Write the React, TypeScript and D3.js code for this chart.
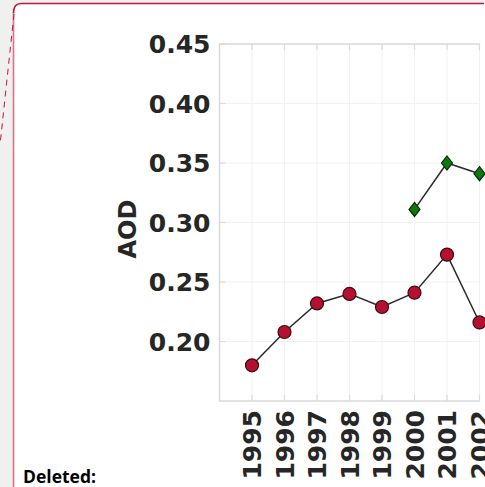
import React from "react";
import * as d3 from "d3";

const years = [1995, 1996, 1997, 1998, 1999, 2000, 2001, 2002];
const redSeries = [0.18, 0.208, 0.232, 0.24, 0.229, 0.241, 0.273, 0.216];
const greenYears = [2000, 2001, 2002];
const greenSeries = [0.311, 0.35, 0.341];
const yTicks = [0.2, 0.25, 0.3, 0.35, 0.4, 0.45];
const yLabel = "AOD";
const noteText = "Deleted:";

const W = 485;
const H = 487;

export default function App() {
  const x = d3.scaleLinear().domain([1994, 1995]).range([219.5, 252]);
  const y = d3.scaleLinear().domain([0.15, 0.45]).range([401, 44]);
  const left = x(1994);
  const right = 480;
  const top = y(0.45);
  const bottom = y(0.15);

  const redPts = years.map((yr, i) => [x(yr), y(redSeries[i])] as [number, number]);
  const greenPts = greenYears.map((yr, i) => [x(yr), y(greenSeries[i])] as [number, number]);
  const lineGen = d3.line();

  const fontMain = "'DejaVu Sans', sans-serif";
  const txt = "#262626";

  return (
    <svg
      width={W}
      height={H}
      style={{ position: "absolute", left: 0, top: 0, display: "block" }}
    >
      <rect x={0} y={0} width={W} height={H} fill="#f0f0f0" />
      {/* comment box */}
      <rect x={13.5} y={3.5} width={W} height={H} rx={7} fill="#ffffff" stroke="none" />
      <path d={`M13.5,${H + 5} L13.5,12`} stroke="#d9738a" strokeWidth={1.6} fill="none" />
      <path d={`M13.5,13 Q13.5,3.5 21,3.5 L484,3.5`} stroke="#c0143c" strokeWidth={1.5} fill="none" />
      <line x1={14} y1={14} x2={0} y2={145} stroke="#c0143c" strokeWidth={1} strokeDasharray="6,5" />

      {/* grid */}
      {yTicks.map((t) => (
        <line key={"gy" + t} x1={left} x2={right} y1={y(t)} y2={y(t)} stroke="#f1f1f1" strokeWidth={1} />
      ))}
      {years.map((yr) => (
        <line key={"gx" + yr} x1={x(yr)} x2={x(yr)} y1={top} y2={bottom} stroke="#f1f1f1" strokeWidth={1} />
      ))}
      {/* frame */}
      <path
        d={`M${right},${top} L${left},${top} L${left},${bottom} L${right},${bottom}`}
        fill="none"
        stroke="#dadada"
        strokeWidth={1.5}
      />
      {/* ticks */}
      {yTicks.map((t) => (
        <line key={"ty" + t} x1={left} x2={left + 6} y1={y(t)} y2={y(t)} stroke="#dadada" strokeWidth={1.2} />
      ))}
      {years.map((yr) => (
        <g key={"tx" + yr}>
          <line x1={x(yr)} x2={x(yr)} y1={bottom} y2={bottom - 6} stroke="#dadada" strokeWidth={1.2} />
          <line x1={x(yr)} x2={x(yr)} y1={top} y2={top + 6} stroke="#dadada" strokeWidth={1.2} />
        </g>
      ))}
      {/* y tick labels */}
      {yTicks.map((t) => (
        <text
          key={"ly" + t}
          x={left - 9}
          y={y(t)}
          dy="0.36em"
          textAnchor="end"
          fontFamily={fontMain}
          fontWeight="bold"
          fontSize={25}
          fill={txt}
        >
          {d3.format(".2f")(t)}
        </text>
      ))}
      {/* x tick labels */}
      {years.map((yr) => (
        <text
          key={"lx" + yr}
          transform={`translate(${x(yr)},${bottom + 9}) rotate(-90)`}
          dy="0.36em"
          textAnchor="end"
          fontFamily={fontMain}
          fontWeight="bold"
          fontSize={25}
          fill={txt}
        >
          {yr}
        </text>
      ))}
      {/* y label */}
      <text
        transform={`translate(127,229) rotate(-90)`}
        dy="0.36em"
        textAnchor="middle"
        fontFamily={fontMain}
        fontWeight="bold"
        fontSize={24}
        fill={txt}
      >
        {yLabel}
      </text>

      {/* series */}
      <path d={lineGen(redPts) || ""} fill="none" stroke="#2a2a2a" strokeWidth={1.5} />
      <path d={lineGen(greenPts) || ""} fill="none" stroke="#2a2a2a" strokeWidth={1.5} />
      {redPts.map((p, i) => (
        <circle key={"r" + i} cx={p[0]} cy={p[1]} r={6.5} fill="#b5102f" stroke="#3a0a10" strokeWidth={1.2} />
      ))}
      {greenPts.map((p, i) => (
        <path
          key={"g" + i}
          d={`M${p[0]},${p[1] - 7} L${p[0] + 5.5},${p[1]} L${p[0]},${p[1] + 7} L${p[0] - 5.5},${p[1]} Z`}
          fill="#0b7a0b"
          stroke="#0a2a0a"
          strokeWidth={1.2}
        />
      ))}

      {/* note */}
      <text x={23} y={483} fontFamily="'Open Sans', sans-serif" fontWeight="bold" fontSize={17.5} fill="#000">
        {noteText}
      </text>
    </svg>
  );
}
